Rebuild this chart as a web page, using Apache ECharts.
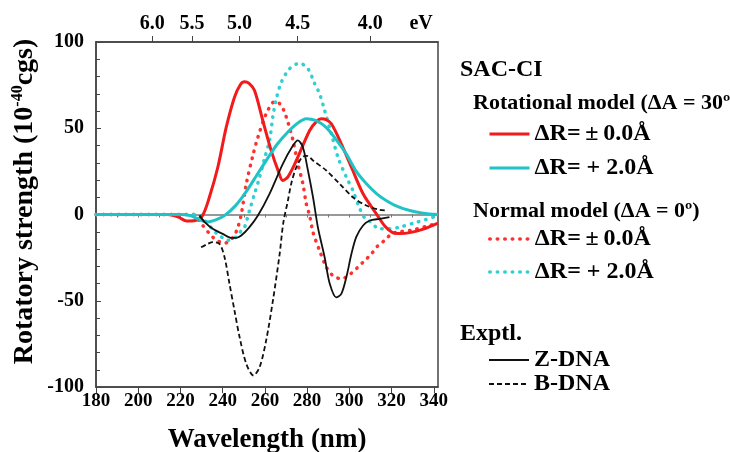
<!DOCTYPE html>
<html>
<head>
<meta charset="utf-8">
<script src="https://cdn.jsdelivr.net/npm/echarts@6/dist/echarts.min.js"></script>
<style>
html,body{margin:0;padding:0;background:#fff;}
#main{width:730px;height:452px;}
</style>
</head>
<body>
<div id="main"></div>
<script>
// 波长 (nm) / 旋光强度 数据
var rotZero = [[180,0],[200,0],[214,0],[219,-1.5],[223,-3.8],[227,-3.5],[230.5,-0.5],[233.7,10],[237.7,27.4],[241.7,50.6],[245.6,68],[248.5,75.5],[250.4,77],[252.5,76],[255.1,71.9],[259,54.5],[263,37],[266.1,26],[268.5,19.7],[271,22],[274.9,31.3],[281.2,48.7],[284.5,54],[286.7,55.5],[289,55],[291.5,52.6],[296.2,41],[301,27.4],[306.5,12],[312.8,0.4],[317,-7],[320.5,-10.5],[324,-11],[328.6,-10.5],[335,-8.5],[342,-5]];
var rotTwo = [[180,0],[220,0],[225,-0.8],[229,-3],[233,-4.3],[237,-3],[241,-0.5],[246,5],[251,13],[256,22.5],[261,32],[266,41],[271,48],[275,52.5],[279.6,55.5],[284,54.5],[289,50.5],[294,43],[298.6,35],[303.3,25],[308,18],[313,12],[317.6,8],[323,4.5],[328.6,2.3],[335,0.8],[342,0]];
var norZero = [[180,0],[226,0],[228.5,-3],[230.6,-6.4],[233.7,-11],[236.9,-14.7],[240.9,-16.6],[243.5,-15],[245.6,-12],[247.2,-7.4],[248.8,0],[251.2,17.8],[254.3,34.2],[256.7,44.8],[260.6,58.4],[263.8,65],[265.5,65.5],[267.8,63],[269.3,59.3],[270.9,53.5],[273.3,43],[275.6,29.4],[278,17.8],[279.6,6.2],[281.2,-0.6],[282.8,-10.3],[285.9,-20.9],[289.1,-30.5],[292.2,-35.4],[296.2,-37.3],[300.2,-34.8],[304.1,-30.5],[307.3,-26.7],[310.5,-22.8],[313.6,-18],[316.8,-15],[320,-11.2],[324,-10],[330,-9],[336,-7],[342,-5]];
var norTwo = [[180,0],[228,0],[232,-4],[235.5,-9],[238.5,-12.2],[242.4,-15],[246.4,-13],[249,-9],[250.4,-7.3],[252.7,2.3],[255.1,12],[257.5,21.6],[259.8,32.3],[262.2,43],[263.8,57],[265.4,67],[267.8,76.7],[271.7,84.5],[276.4,87.7],[280.4,84.5],[283.6,75.8],[285.9,70],[288.3,60.3],[291.5,46.8],[294.6,33.2],[298.6,21.6],[301.7,13.9],[304.9,3.5],[307.3,-2],[309.7,-4],[314.4,-8.3],[319,-8.3],[323.9,-7.3],[331.8,-4.5],[336,-3],[342,-0.6]];
var zDna = [[229,-0.5],[231.5,-4.4],[235.3,-8.3],[240,-11.2],[244,-13.5],[246.5,-13.5],[248.8,-12.2],[252.7,-7.3],[256.7,-0.6],[262.2,12],[268.5,29.4],[273.3,40],[275.6,43],[278,39],[280.4,25.5],[282.8,10],[285.1,-7.4],[288.3,-24.8],[290.7,-40],[293.8,-48],[296.2,-46],[298.6,-36.3],[301,-22.8],[303.3,-13],[306.5,-6.4],[309.7,-3.5],[314.4,-2.5],[319,-1.5]];
var bDna = [[229.8,-19],[233,-17],[235.3,-16],[238.5,-17],[240.9,-24.8],[243.2,-40],[245.6,-55.7],[248,-71],[251.2,-86.6],[254.6,-93.3],[257.5,-88.5],[260.6,-73],[263.8,-49.9],[267,-22.8],[268.7,-5],[270.9,8],[272.5,18],[274.9,27.4],[278,33.6],[280,34],[282.8,31.3],[289.1,25.5],[295.4,17.8],[301.7,10],[308,5.2],[314.4,2.7],[318.3,2.3]];

var evTicks = [6.0, 5.5, 5.0, 4.5, 4.0];
var evUnitAt = 334;     // "eV" 文字所在波长位置
var hc = 1239.84;       // eV*nm

var labels = {
	rot0: 'ΔR=\u2009±\u20090.0Å', rot2: 'ΔR= + 2.0Å',
	nor0: 'ΔR=\u2009±\u20090.0Å', nor2: 'ΔR= + 2.0Å',
	zdna: 'Z-DNA', bdna: 'B-DNA'
};

var FONT = '"Liberation Serif", "Times New Roman", serif';
var RED = '#f21a1a', CYAN = '#1fc3c6';

var evPos = evTicks.map(function(e){ return hc / e; });

var myChart = echarts.init(document.getElementById('main'));

function legendBox(top, data, gap, width){
	return {
		orient: 'vertical',
		left: 483,
		top: top,
		data: data,
		itemGap: gap,
		itemWidth: 40,
		itemHeight: 14,
		selectedMode: false,
		formatter: function(n){ return labels[n]; },
		itemStyle: {opacity: 0},
		lineStyle: {width: width},
		textStyle: {fontFamily: FONT, fontWeight: 'bold', fontSize: 24, color: '#000', lineHeight: 24}
	};
}

function heading(text, left, top, size){
	return {type: 'text', left: left, top: top,
		style: {text: text, font: 'bold ' + size + 'px ' + FONT, fill: '#000'}};
}

var tickLabel = {fontFamily: FONT, fontWeight: 'bold', color: '#000'};

var option = {
	animation: false,
	grid: {left: 96, right: 292, top: 42, bottom: 65, show: true, borderColor: '#444', borderWidth: 1.5, outerBoundsMode: 'none'},
	legend: [
		legendBox(117, ['rot0', 'rot2'], 10, 3),
		legendBox(222, ['nor0', 'nor2'], 9, 3.5),
		legendBox(343, ['zdna', 'bdna'], 0, 2)
	],
	graphic: [
		heading('SAC-CI', 460, 58, 24),
		heading('Rotational model (ΔA = 30º)', 473, 92, 22),
		heading('Normal model (ΔA = 0º)', 473, 200, 22),
		heading('Exptl.', 460, 322, 24)
	],
	xAxis: [
		{
			type: 'value', position: 'bottom', min: 180, max: 342, interval: 20,
			name: 'Wavelength (nm)', nameLocation: 'middle', nameGap: 40,
			nameTextStyle: {fontFamily: FONT, fontWeight: 'bold', fontSize: 27, color: '#000'},
			axisLine: {onZero: false, lineStyle: {color: '#444', width: 1.5}},
			axisTick: {length: 6, lineStyle: {color: '#444'}},
			axisLabel: Object.assign({fontSize: 19, margin: 5, showMaxLabel: false}, tickLabel),
			splitLine: {show: false}
		},
		{
			type: 'value', position: 'top', min: 180, max: 342,
			axisLine: {onZero: false, lineStyle: {color: '#444', width: 1.5}},
			axisTick: {length: 6, customValues: evPos, lineStyle: {color: '#444'}},
			axisLabel: Object.assign({fontSize: 20, margin: 8,
				customValues: evPos.concat([evUnitAt]),
				formatter: function(v){ return v === evUnitAt ? 'eV' : (hc / v).toFixed(1); }
			}, tickLabel),
			splitLine: {show: false}
		},
		{
			// 零线及其刻度
			type: 'value', position: 'bottom', min: 180, max: 342, interval: 10,
			axisLine: {onZero: true, lineStyle: {color: '#777', width: 1.5}},
			axisTick: {length: 3, lineStyle: {color: '#777'}},
			axisLabel: {show: false},
			splitLine: {show: false}
		}
	],
	yAxis: {
		type: 'value', min: -100, max: 100, interval: 50,
		name: '{t|Rotatory strength (10}{s|-40}{t|cgs)}',
		nameLocation: 'middle', nameGap: 56,
		nameTextStyle: {padding: [0, 0, 0, 26], rich: {
			t: {fontFamily: FONT, fontWeight: 'bold', fontSize: 28, color: '#000', lineHeight: 30},
			s: {fontFamily: FONT, fontWeight: 'bold', fontSize: 16, color: '#000', verticalAlign: 'top', lineHeight: 30}
		}},
		axisLine: {onZero: false, lineStyle: {color: '#444', width: 1.5}},
		axisTick: {inside: true, length: 5, lineStyle: {color: '#444'}},
		minorTick: {show: true, splitNumber: 5, length: 4, lineStyle: {color: '#444'}},
		axisLabel: Object.assign({fontSize: 20, margin: 12}, tickLabel),
		splitLine: {show: false}
	},
	series: [
		{name: 'nor0', type: 'line', data: norZero, symbol: 'none', smooth: 0.3,
			lineStyle: {color: '#ff3030', width: 3.5, type: [0.5, 7], cap: 'round'}, itemStyle: {color: '#ff3030'}},
		{name: 'nor2', type: 'line', data: norTwo, symbol: 'none', smooth: 0.3,
			lineStyle: {color: '#2fcfd3', width: 3.5, type: [0.5, 7], cap: 'round'}, itemStyle: {color: '#2fcfd3'}},
		{name: 'rot0', type: 'line', data: rotZero, symbol: 'none', smooth: 0.3,
			lineStyle: {color: RED, width: 3}, itemStyle: {color: RED}},
		{name: 'rot2', type: 'line', data: rotTwo, symbol: 'none', smooth: 0.3,
			lineStyle: {color: CYAN, width: 3}, itemStyle: {color: CYAN}},
		{name: 'zdna', type: 'line', data: zDna, symbol: 'none', smooth: 0.3,
			lineStyle: {color: '#111', width: 1.8}, itemStyle: {color: '#111'}},
		{name: 'bdna', type: 'line', data: bDna, symbol: 'none', smooth: 0.3,
			lineStyle: {color: '#111', width: 1.8, type: [5, 3]}, itemStyle: {color: '#111'}}
	]
};

myChart.setOption(option);
</script>
</body>
</html>
